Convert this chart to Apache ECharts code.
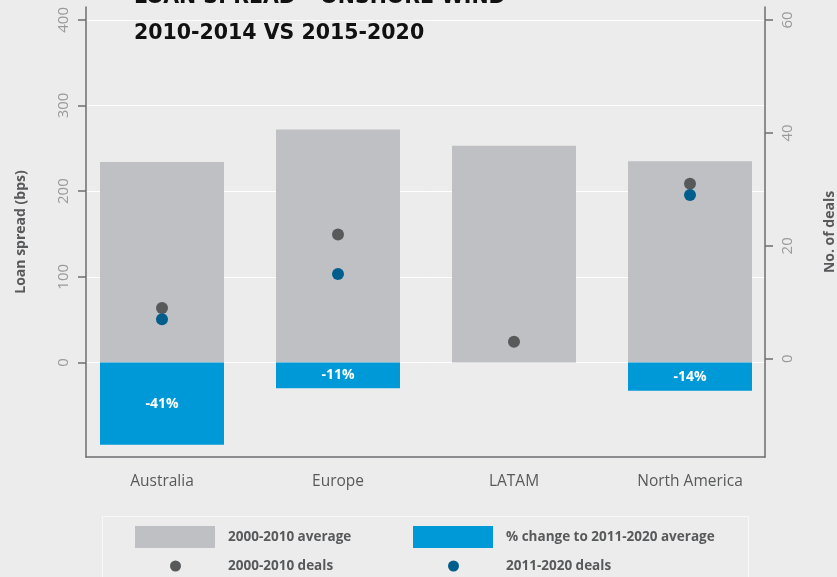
<!DOCTYPE html>
<html>
<head>
<meta charset="utf-8">
<script src="https://cdn.jsdelivr.net/npm/echarts@6/dist/echarts.min.js"></script>
<style>
  html, body { margin: 0; padding: 0; background: #ececec; }
  #chart { width: 837px; height: 577px; }
</style>
</head>
<body>
<div id="chart"></div>
<script>
var categories = ['Australia', 'Europe', 'LATAM', 'North America'];
// loan spread, bps
var avg2000 = [234, 272, 253, 235];
var changeBps = [-96, -30, null, -33];
var changePct = [-41, -11, null, -14];
// number of deals
var deals2000 = [9, 22, 3, 31];
var deals2011 = [7, 15, null, 29];
var spreadTicks = [0, 100, 200, 300, 400];
var dealTicks = [0, 20, 40, 60];

var spreadMin = -110.4, spreadMax = 415;
var dealMin = -17.4, dealMax = 62.3;

var dark = '#58595b';
var font = 'Open Sans';

var chart = echarts.init(document.getElementById('chart'));

var legendText = { fontFamily: font, fontWeight: 'bold', fontSize: 13.5, color: dark };

var option = {
    animation: false,
    backgroundColor: '#ececec',
    title: {
        text: 'LOAN SPREAD – ONSHORE WIND\n2010-2014 VS 2015-2020',
        left: 134,
        top: -20,
        padding: 0,
        textStyle: {
            fontFamily: 'DejaVu Sans',
            fontWeight: 'bold',
            fontSize: 20.5,
            lineHeight: 36,
            color: '#111'
        }
    },
    graphic: [{
        type: 'rect',
        z: -1,
        shape: { x: 102.5, y: 516.5, width: 646, height: 80 },
        style: { fill: '#ececec', stroke: '#f8f8f8', lineWidth: 1 }
    }],
    legend: [
        {
            data: ['2000-2010 average'], left: 135, top: 526, padding: 0,
            itemWidth: 80, itemHeight: 22, selectedMode: false, icon: 'rect',
            textStyle: Object.assign({ padding: [0, 0, 0, 8] }, legendText)
        },
        {
            data: ['% change to 2011-2020 average'], left: 413, top: 526, padding: 0,
            itemWidth: 80, itemHeight: 22, selectedMode: false, icon: 'rect',
            textStyle: Object.assign({ padding: [0, 0, 0, 8] }, legendText)
        },
        {
            data: ['2000-2010 deals'], left: 170, top: 559, padding: 0,
            itemWidth: 11, itemHeight: 11, selectedMode: false, icon: 'circle',
            textStyle: Object.assign({ padding: [0, 0, 0, 42] }, legendText)
        },
        {
            data: ['2011-2020 deals'], left: 448, top: 559, padding: 0,
            itemWidth: 11, itemHeight: 11, selectedMode: false, icon: 'circle',
            textStyle: Object.assign({ padding: [0, 0, 0, 42] }, legendText)
        }
    ],
    grid: [
        { left: 74, right: 59, top: 7, bottom: 120, outerBoundsMode: 'none', containLabel: false },
        { left: 86, right: 72, top: 7, bottom: 120, outerBoundsMode: 'none', containLabel: false }
    ],
    xAxis: [
        {
            type: 'category',
            gridIndex: 0,
            data: categories,
            axisLine: { show: false },
            axisTick: { show: false },
            axisLabel: { color: dark, fontFamily: font, fontSize: 15.5, margin: 17 }
        },
        {
            type: 'value',
            gridIndex: 1,
            axisLine: { show: true, onZero: false, lineStyle: { color: '#6d6e70', width: 1.5 } },
            axisTick: { show: false },
            axisLabel: { show: false },
            splitLine: { show: false }
        }
    ],
    yAxis: [
        {
            type: 'value',
            gridIndex: 1,
            position: 'left',
            min: spreadMin,
            max: spreadMax,
            name: 'Loan spread (bps)',
            nameLocation: 'middle',
            nameRotate: 90,
            nameGap: 58,
            nameTextStyle: { fontFamily: font, fontWeight: 'bold', fontSize: 14, color: dark },
            axisLine: { show: true, onZero: false, lineStyle: { color: '#6d6e70', width: 1.5 } },
            axisTick: { show: true, length: 8, customValues: spreadTicks, lineStyle: { color: '#6d6e70', width: 1.5 } },
            axisLabel: { rotate: 90, margin: 15, customValues: spreadTicks, color: '#9a9a9a', fontFamily: font, fontSize: 15 },
            splitLine: { show: true, lineStyle: { color: '#ffffff', width: 1 } }
        },
        {
            type: 'value',
            gridIndex: 1,
            position: 'right',
            min: dealMin,
            max: dealMax,
            name: 'No. of deals',
            nameLocation: 'middle',
            nameRotate: 90,
            nameGap: 58,
            nameTextStyle: { fontFamily: font, fontWeight: 'bold', fontSize: 14, color: dark },
            axisLine: { show: true, onZero: false, lineStyle: { color: '#6d6e70', width: 1.5 } },
            axisTick: { show: true, length: 8, customValues: dealTicks, lineStyle: { color: '#6d6e70', width: 1.5 } },
            axisLabel: { rotate: 90, margin: 15, customValues: dealTicks, color: '#9a9a9a', fontFamily: font, fontSize: 15 },
            splitLine: { show: false }
        },
        { type: 'value', gridIndex: 0, min: spreadMin, max: spreadMax, show: false, splitLine: { show: false } },
        { type: 'value', gridIndex: 0, min: dealMin, max: dealMax, show: false, splitLine: { show: false } }
    ],
    series: [
        {
            name: '2000-2010 average',
            type: 'bar',
            xAxisIndex: 0,
            yAxisIndex: 2,
            barWidth: 124,
            data: avg2000,
            itemStyle: { color: '#bfc0c4' }
        },
        {
            name: '% change to 2011-2020 average',
            type: 'bar',
            xAxisIndex: 0,
            yAxisIndex: 2,
            barWidth: 124,
            barGap: '-100%',
            data: changeBps,
            itemStyle: { color: '#0099d8' },
            label: {
                show: true,
                position: 'inside',
                color: '#ffffff',
                fontFamily: font,
                fontWeight: 'bold',
                fontSize: 14,
                formatter: function (p) {
                    return changePct[p.dataIndex] + '%';
                }
            }
        },
        {
            name: '2000-2010 deals',
            type: 'scatter',
            xAxisIndex: 0,
            yAxisIndex: 3,
            symbolSize: 12,
            data: deals2000,
            itemStyle: { color: '#58595b', opacity: 1 },
            z: 5
        },
        {
            name: '2011-2020 deals',
            type: 'scatter',
            xAxisIndex: 0,
            yAxisIndex: 3,
            symbolSize: 12,
            data: deals2011,
            itemStyle: { color: '#005e8c', opacity: 1 },
            z: 6
        }
    ]
};

chart.setOption(option);
</script>
</body>
</html>
